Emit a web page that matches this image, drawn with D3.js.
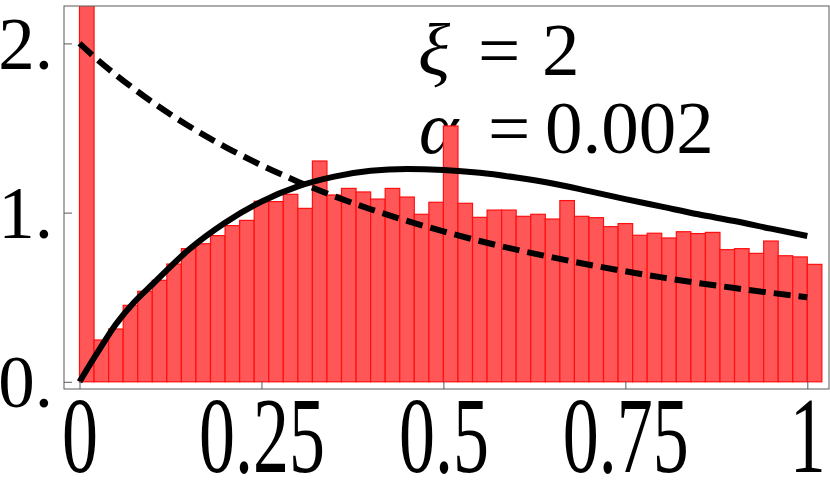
<!DOCTYPE html>
<html>
<head>
<meta charset="utf-8">
<script src="https://cdn.jsdelivr.net/npm/d3@7"></script>
<style>
  html, body { margin: 0; padding: 0; background: #fff; }
  svg { display: block; }
</style>
</head>
<body>
<svg id="chart" width="830" height="482"></svg>
<script>
// ---- data ----
const binStarts = d3.range(51).map(i => +(i * 0.02).toFixed(2));
const binWidth = 0.02;
const binHeights = [2.6, 0.247, 0.312, 0.452, 0.535, 0.600, 0.696, 0.787, 0.816, 0.864,
  0.923, 0.954, 1.067, 1.065, 1.108, 1.025, 1.305, 1.104, 1.143, 1.122,
  1.080, 1.143, 1.092, 0.990, 1.061, 1.512, 1.055, 0.972, 1.015, 1.015,
  0.978, 0.990, 0.962, 1.071, 0.978, 0.970, 0.917, 0.935, 0.866, 0.878,
  0.850, 0.887, 0.876, 0.883, 0.781, 0.787, 0.759, 0.832, 0.745, 0.738, 0.694];

const curveX = [0, 0.025, 0.05, 0.075, 0.1, 0.15, 0.2, 0.25, 0.3, 0.35, 0.4, 0.45, 0.5,
  0.55, 0.6, 0.65, 0.7, 0.75, 0.8, 0.85, 0.9, 0.95, 1.0];
const solidY = [0, 0.175, 0.34, 0.47, 0.575, 0.78, 0.94, 1.065, 1.155, 1.213, 1.247, 1.258, 1.252,
  1.235, 1.207, 1.172, 1.127, 1.08, 1.035, 0.99, 0.95, 0.905, 0.862];
const dashedY = [2.0, 1.903, 1.814, 1.731, 1.653, 1.512, 1.389, 1.28, 1.183, 1.097, 1.02, 0.951, 0.889,
  0.832, 0.781, 0.735, 0.692, 0.653, 0.617, 0.584, 0.554, 0.526, 0.5];

const xTicks = [0, 0.25, 0.5, 0.75, 1];
const xTickLabels = ["0", "0.25", "0.5", "0.75", "1"];
const yTicks = [0, 1, 2];
const yTickLabels = ["0.", "1.", "2."];

// ---- layout ----
const frame = { left: 64, top: 6, right: 829, bottom: 389 };
const serif = "'Liberation Serif', 'Times New Roman', serif";
const svg = d3.select("#chart");

const x = d3.scaleLinear().domain([-0.0213, 1.0298]).range([frame.left, frame.right]);
const y = d3.scaleLinear().domain([-0.0426, 2.2211]).range([frame.bottom, frame.top]);

svg.append("defs").append("clipPath").attr("id", "clip")
  .append("rect")
  .attr("x", frame.left).attr("y", frame.top)
  .attr("width", frame.right - frame.left).attr("height", frame.bottom - frame.top);

// annotation (drawn under the bars)
const ann = svg.append("g").attr("font-family", serif)
  .attr("font-size", 75).attr("fill", "#000");
const t1 = ann.append("text").attr("y", 75);
t1.append("tspan").attr("x", 418).attr("font-style", "italic").text("ξ");
t1.append("tspan").attr("x", 478).text("=");
t1.append("tspan").attr("x", 542).text("2");
const t2 = ann.append("text").attr("y", 153);
t2.append("tspan").attr("x", 419).attr("font-style", "italic").text("α");
t2.append("tspan").attr("x", 488).text("=");
t2.append("tspan").attr("x", 545).text("0.002");

const plot = svg.append("g").attr("clip-path", "url(#clip)");

// bars
plot.append("g").selectAll("rect")
  .data(binStarts.map((s, i) => ({ s, h: binHeights[i] })))
  .join("rect")
  .attr("x", d => x(d.s))
  .attr("y", d => y(d.h))
  .attr("width", d => x(d.s + binWidth) - x(d.s))
  .attr("height", d => y(0) - y(d.h))
  .attr("fill", "#ff5757")
  .attr("stroke", "#ff1010")
  .attr("stroke-width", 1.2);

const line = d3.line().x(d => x(d[0])).y(d => y(d[1])).curve(d3.curveMonotoneX);

plot.append("path")
  .datum(curveX.map((v, i) => [v, dashedY[i]]))
  .attr("d", line)
  .attr("fill", "none").attr("stroke", "#000").attr("stroke-width", 6)
  .attr("stroke-dasharray", "17,8");

plot.append("path")
  .datum(curveX.map((v, i) => [v, solidY[i]]))
  .attr("d", line)
  .attr("fill", "none").attr("stroke", "#000").attr("stroke-width", 6);

// frame
svg.append("rect")
  .attr("x", frame.left).attr("y", frame.top)
  .attr("width", frame.right - frame.left).attr("height", frame.bottom - frame.top)
  .attr("fill", "none").attr("stroke", "#5a5a5a").attr("stroke-width", 1);

// axes
const xAxis = d3.axisBottom(x).tickValues(xTicks)
  .tickFormat((d, i) => xTickLabels[i]).tickSizeInner(-8).tickSizeOuter(0);
const gx = svg.append("g").attr("transform", `translate(0,${frame.bottom})`).call(xAxis);
gx.select(".domain").remove();
gx.selectAll(".tick line").attr("stroke", "#5a5a5a");
gx.selectAll(".tick text")
  .attr("font-family", serif)
  .attr("font-size", 72).attr("fill", "#000")
  .attr("y", 0).attr("dy", 0)
  .attr("transform", "translate(0,83) scale(1,1.5)");

const yAxis = d3.axisLeft(y).tickValues(yTicks)
  .tickFormat((d, i) => yTickLabels[i]).tickSizeInner(-8).tickSizeOuter(0);
const gy = svg.append("g").attr("transform", `translate(${frame.left},0)`).call(yAxis);
gy.select(".domain").remove();
gy.selectAll(".tick line").attr("stroke", "#5a5a5a");
gy.selectAll(".tick text")
  .attr("font-family", serif)
  .attr("font-size", 73).attr("fill", "#000")
  .attr("x", -11).attr("dy", 25).attr("text-anchor", "end");
</script>
</body>
</html>
